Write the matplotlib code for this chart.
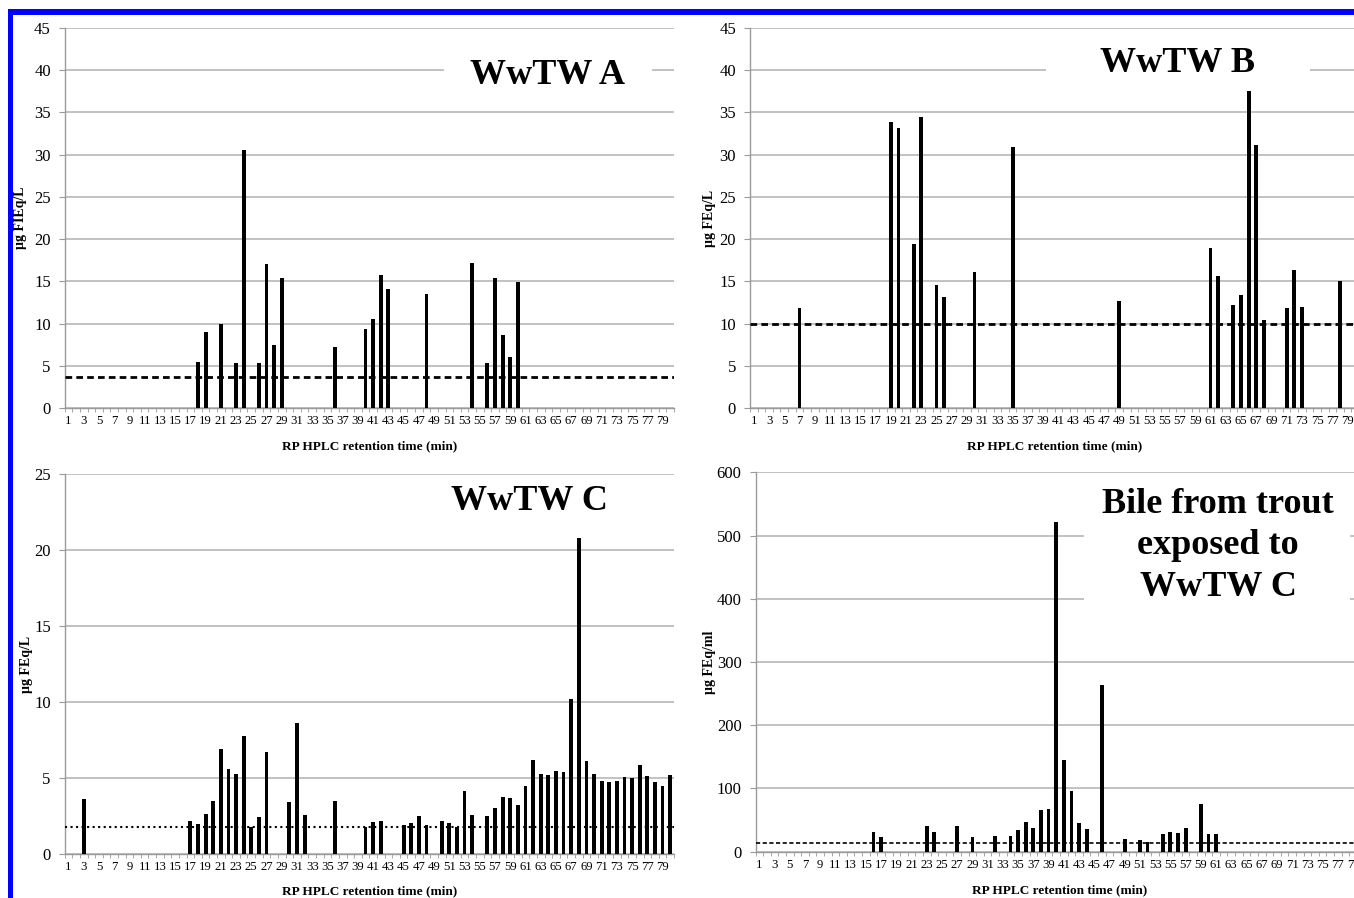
import numpy as np
import matplotlib
matplotlib.use("Agg")
import matplotlib.pyplot as plt
from matplotlib.patches import Rectangle
from matplotlib.ticker import FixedLocator

plt.rcParams['font.family'] = ['Liberation Serif', 'DejaVu Serif']

# ---------------- data ----------------
categories = list(range(1, 81))
tick_positions = list(range(1, 80, 2))
tick_labels = [str(i) for i in tick_positions]

a_times = [18, 19, 21, 23, 24, 26, 27, 28, 29, 36, 40, 41, 42, 43, 48, 54, 56, 57, 58, 59, 60]
a_vals = [5.45, 9.0, 9.9, 5.3, 30.6, 5.3, 17.0, 7.5, 15.4, 7.2, 9.35, 10.55, 15.7, 14.1, 13.5, 17.2, 5.3, 15.4, 8.7, 6.0, 14.9]
a_thresh = 3.7

b_times = [7, 19, 20, 22, 23, 25, 26, 30, 35, 49, 61, 62, 64, 65, 66, 67, 68, 71, 72, 73, 78]
b_vals = [11.9, 33.9, 33.2, 19.4, 34.5, 14.6, 13.2, 16.1, 30.9, 12.7, 19.0, 15.6, 12.2, 13.4, 37.5, 31.1, 10.4, 11.8, 16.4, 12.0, 15.0]
b_thresh = 10.0

c_times = [3, 17, 18, 19, 20, 21, 22, 23, 24, 25, 26, 27, 30, 31, 32, 36, 40, 41, 42,
           45, 46, 47, 48, 50, 51, 52, 53, 54, 56, 57, 58, 59, 60, 61, 62, 63, 64, 65,
           66, 67, 68, 69, 70, 71, 72, 73, 74, 75, 76, 77, 78, 79, 80]
c_vals = [3.65, 2.15, 2.0, 2.65, 3.5, 6.9, 5.6, 5.3, 7.8, 1.8, 2.45, 6.7, 3.45, 8.6, 2.55, 3.5, 1.8, 2.1, 2.15,
          1.9, 2.05, 2.5, 1.9, 2.15, 2.05, 1.8, 4.15, 2.55, 2.5, 3.0, 3.75, 3.7, 3.2, 4.45, 6.2, 5.3, 5.2, 5.45,
          5.4, 10.2, 20.8, 6.15, 5.3, 4.8, 4.75, 4.8, 5.05, 5.0, 5.85, 5.15, 4.75, 4.45, 5.2]
c_thresh = 1.75

d_times = [16, 17, 23, 24, 27, 29, 32, 34, 35, 36, 37, 38, 39, 40, 41, 42, 43, 44, 46,
           49, 51, 52, 54, 55, 56, 57, 59, 60, 61]
d_vals = [31, 24, 40, 31, 41, 23, 25, 25, 35, 47, 38, 66, 67, 521, 145, 96, 45, 36, 264,
          20, 19, 16, 28, 31, 29, 37, 75, 28, 28]
d_thresh = 13.2

# ---------------- layout ----------------
W, H = 1354, 898
fig = plt.figure(figsize=(W / 100, H / 100), dpi=100)
fig.patch.set_facecolor('white')


def rect(l, r, t, b):
    return [l / W, 1 - b / H, (r - l) / W, (b - t) / H]


GRID = '#bdbdbd'
SPINE = '#9a9a9a'


def panel(pos, times, vals, thresh, ymax, ystep, ylabel, ls, lw, ylab_x, xlab_y, dashes=None):
    ax = fig.add_axes(pos)
    ax.set_xlim(0.5, 80.5)
    ax.set_ylim(0, ymax)
    ax.set_yticks(np.arange(0, ymax + ystep / 2, ystep))
    ax.yaxis.grid(True, color=GRID, linewidth=1.3, zorder=0)
    ax.set_axisbelow(True)
    for s in ['top', 'right']:
        ax.spines[s].set_visible(False)
    ax.spines['left'].set_color(SPINE)
    ax.spines['bottom'].set_color(SPINE)
    ax.spines['left'].set_linewidth(1.0)
    ax.spines['bottom'].set_linewidth(1.0)
    ax.bar(times, vals, width=0.5, color='black', zorder=3)
    line, = ax.plot([0.5, 80.5], [thresh, thresh], color='black', linewidth=lw,
                    linestyle=ls, zorder=4)
    if dashes is not None:
        line.set_dashes(dashes)
    ax.set_xticks(tick_positions)
    ax.set_xticklabels(tick_labels, fontsize=9.2)
    ax.xaxis.set_minor_locator(FixedLocator(np.arange(0.5, 81, 1)))
    ax.tick_params(axis='x', which='major', length=0, pad=5)
    ax.tick_params(axis='x', which='minor', length=3, color=SPINE, direction='out')
    ax.tick_params(axis='y', length=4, color=SPINE, pad=6, labelsize=12)
    ax.set_ylabel(ylabel, fontsize=10, fontweight='bold')
    ax.yaxis.set_label_coords(ylab_x, 0.5)
    ax.set_xlabel('RP HPLC retention time (min)', fontsize=9.5, fontweight='bold')
    ax.xaxis.set_label_coords(0.5, xlab_y)
    return ax


axA = panel(rect(64.7, 674, 28, 408), a_times, a_vals, a_thresh, 45, 5,
            'µg FIEq/L', '--', 2.0, -0.062, -0.084, dashes=(2.4, 1.5))
axB = panel(rect(750, 1359, 28, 408), b_times, b_vals, b_thresh, 45, 5,
            'µg FEq/L', '--', 2.0, -0.056, -0.084, dashes=(2.4, 1.5))
axC = panel(rect(64.7, 674, 474.3, 854), c_times, c_vals, c_thresh, 25, 5,
            'µg FEq/L', ':', 1.5, -0.052, -0.083)
axD = panel(rect(755.5, 1364.5, 472.3, 851.7), d_times, d_vals, d_thresh, 600, 100,
            'µg FEq/ml', '--', 1.2, -0.065, -0.086, dashes=(2.5, 1.5))


def white_box(l, r, t, b):
    fig.patches.append(Rectangle((l / W, 1 - b / H), (r - l) / W, (b - t) / H,
                                 transform=fig.transFigure, facecolor='white',
                                 edgecolor='none', zorder=1))


def title(x, y, s, ls=1.12):
    fig.text(x / W, 1 - y / H, s, ha='center', va='center', fontsize=26,
             fontweight='bold', linespacing=ls, zorder=5)


white_box(444, 652, 45, 100)
title(548, 75, 'WwTW A')
white_box(1046, 1310, 42, 86)
title(1178, 64, 'WwTW B')
title(529, 502, 'WwTW C')
white_box(1084, 1350, 480, 612)
title(1218, 546, 'Bile from trout\nexposed to\nWwTW C', ls=1.33)

# blue frame
fig.patches.append(Rectangle((8 / W, 1 - 15 / H), (W - 8) / W, 6 / H,
                             transform=fig.transFigure, facecolor='#0000ff',
                             edgecolor='none', zorder=6))
fig.patches.append(Rectangle((8 / W, 0), 5 / W, 1 - 9 / H,
                             transform=fig.transFigure, facecolor='#0000ff',
                             edgecolor='none', zorder=6))

fig.savefig('out.png', dpi=100)
